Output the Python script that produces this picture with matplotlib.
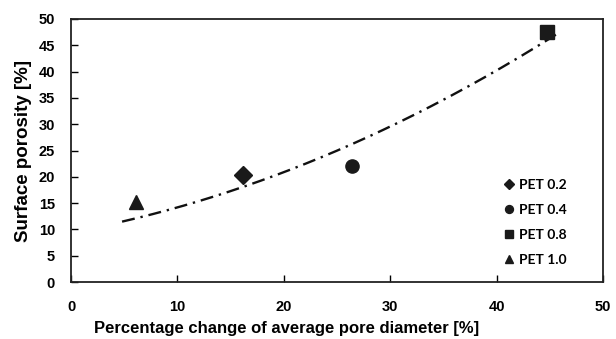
import numpy as np
import matplotlib
matplotlib.use("Agg")
import matplotlib.pyplot as plt

# measured points
labels = ["PET 0.2", "PET 0.4", "PET 0.8", "PET 1.0"]
pore_change = [16.2, 26.4, 44.7, 6.1]
porosity = [20.4, 22.1, 47.6, 15.2]
markers = ["D", "o", "s", "^"]
marker_sizes = [9, 9.5, 9.5, 10]

# trend line (2nd order polynomial)
trend_coef = [0.0099, 0.373, 9.46]
trend_range = [4.8, 45.8]

plt.rcParams['font.family'] = ['Liberation Sans', 'DejaVu Sans']
fig = plt.figure(figsize=(6.16, 3.39), dpi=100)
ax = fig.add_axes([71/616, 1 - 282/339, 532/616, 263/339])

xt = np.linspace(trend_range[0], trend_range[1], 200)
ax.plot(xt, np.polyval(trend_coef, xt), color='#111111', lw=1.7,
        linestyle=(0, (5.5, 2.5, 1, 2.5)), zorder=2)

for lab, x, y, m, s in zip(labels, pore_change, porosity, markers, marker_sizes):
    ax.plot([x], [y], linestyle='none', marker=m, markersize=s,
            color='#1a1a1a', label=lab, zorder=3)

ax.set_xlim(0, 50)
ax.set_ylim(0, 50)
ax.set_xticks(range(0, 51, 10))
ax.set_yticks(range(0, 51, 5))
ax.tick_params(direction='in', length=5, width=1, labelsize=10.5)
ax.tick_params(axis='x', pad=13)
ax.tick_params(axis='y', pad=11.5)
for t in ax.get_xticklabels() + ax.get_yticklabels():
    t.set_fontweight('bold')
for sp in ax.spines.values():
    sp.set_linewidth(1.3)
    sp.set_color('#222222')

ax.set_xlabel('Percentage change of average pore diameter [%]',
              fontsize=12, fontweight='bold')
ax.xaxis.set_label_coords(0.406, -0.148)
ax.set_ylabel('Surface porosity [%]', fontsize=13.5, fontweight='bold', labelpad=5)

leg = ax.legend(loc='lower right', bbox_to_anchor=(0.955, 0.012), frameon=False,
                handlelength=0.6, handletextpad=0.4, labelspacing=0.95,
                markerscale=0.6, prop={'family': 'Lato', 'weight': 'bold', 'size': 10})

fig.savefig('out.png', dpi=100)
